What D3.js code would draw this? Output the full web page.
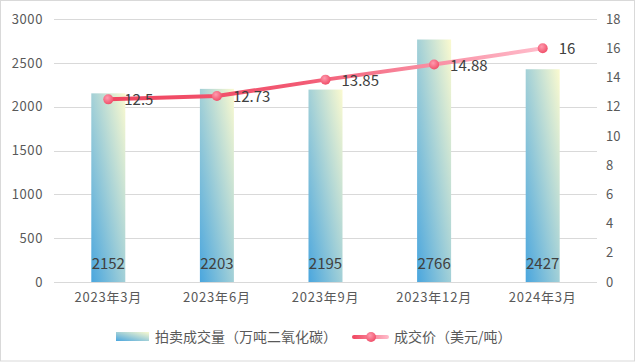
<!DOCTYPE html>
<html>
<head>
<meta charset="utf-8">
<script src="https://d3js.org/d3.v7.min.js"></script>
<style>
  body { margin: 0; background: #fff; }
  text { font-family: "Noto Sans CJK SC", "Noto Sans", sans-serif; }
</style>
</head>
<body>
<div id="chart"></div>
<script>
// Data
const categories = ["2023年3月", "2023年6月", "2023年9月", "2023年12月", "2024年3月"];
const volume = [2152, 2203, 2195, 2766, 2427];      // 拍卖成交量（万吨二氧化碳）
const price = [12.5, 12.73, 13.85, 14.88, 16];     // 成交价（美元/吨）
const leftTicks = [0, 500, 1000, 1500, 2000, 2500, 3000];
const rightTicks = [0, 2, 4, 6, 8, 10, 12, 14, 16, 18];

const width = 635;
const height = 362;
const margin = { top: 19, right: 38, bottom: 80, left: 54 };

const svg = d3.select("#chart")
    .append("svg")
    .attr("width", width)
    .attr("height", height);

// gradients
const defs = svg.append("defs");
const barGrad = defs.append("linearGradient")
    .attr("id", "barGrad")
    .attr("x1", 0).attr("y1", 1).attr("x2", 1).attr("y2", 0);
barGrad.append("stop").attr("offset", "0%").attr("stop-color", "#4aa6de");
barGrad.append("stop").attr("offset", "100%").attr("stop-color", "#fbfad0");

const lineGrad = defs.append("linearGradient")
    .attr("id", "lineGrad")
    .attr("gradientUnits", "userSpaceOnUse")
    .attr("x1", 108).attr("y1", 0).attr("x2", 542).attr("y2", 0);
lineGrad.append("stop").attr("offset", "0%").attr("stop-color", "#f0455f");
lineGrad.append("stop").attr("offset", "45%").attr("stop-color", "#f25a74");
lineGrad.append("stop").attr("offset", "100%").attr("stop-color", "#ffbccb");

const legGrad = defs.append("linearGradient")
    .attr("id", "legGrad")
    .attr("x1", 0).attr("y1", 0).attr("x2", 1).attr("y2", 0);
legGrad.append("stop").attr("offset", "0%").attr("stop-color", "#f0455f");
legGrad.append("stop").attr("offset", "100%").attr("stop-color", "#ffbccb");

const dotGrad = defs.append("radialGradient")
    .attr("id", "dotGrad")
    .attr("cx", "40%").attr("cy", "35%").attr("r", "65%");
dotGrad.append("stop").attr("offset", "0%").attr("stop-color", "#ff9aae");
dotGrad.append("stop").attr("offset", "100%").attr("stop-color", "#f0506a");

// border
svg.append("rect")
    .attr("x", 0.5).attr("y", 0.5)
    .attr("width", width - 1).attr("height", height - 1.5)
    .attr("fill", "none")
    .attr("stroke", "#d9d9d9");

// scales
const x = d3.scaleBand()
    .domain(categories)
    .range([margin.left, width - margin.right])
    .paddingInner(0)
    .paddingOuter(0);

const yL = d3.scaleLinear()
    .domain([0, 3000])
    .range([height - margin.bottom, margin.top]);

const yR = d3.scaleLinear()
    .domain([0, 18])
    .range([height - margin.bottom, margin.top]);

// grid lines
svg.append("g")
    .selectAll("line")
    .data(leftTicks)
    .enter()
    .append("line")
    .attr("x1", margin.left)
    .attr("x2", width - margin.right)
    .attr("y1", d => Math.round(yL(d)) + 0.5)
    .attr("y2", d => Math.round(yL(d)) + 0.5)
    .attr("stroke", "#d9d9d9")
    .attr("stroke-width", 1);

// left axis
const leftAxis = svg.append("g")
    .attr("transform", `translate(${margin.left},0)`)
    .call(d3.axisLeft(yL).tickValues(leftTicks).tickFormat(d3.format("d")).tickSize(0).tickPadding(11));
leftAxis.select(".domain").remove();
leftAxis.selectAll("text")
    .attr("fill", "#595959")
    .style("font-size", "13px")
    .style("letter-spacing", "0.6px");

// right axis
const rightAxis = svg.append("g")
    .attr("transform", `translate(${width - margin.right},0)`)
    .call(d3.axisRight(yR).tickValues(rightTicks).tickSize(0).tickPadding(9));
rightAxis.select(".domain").remove();
rightAxis.selectAll("text")
    .attr("fill", "#595959")
    .style("font-size", "13px");

// bottom axis labels
const bottomAxis = svg.append("g")
    .attr("transform", `translate(0,${height - margin.bottom})`)
    .call(d3.axisBottom(x).tickSize(0).tickPadding(11));
bottomAxis.select(".domain").remove();
bottomAxis.selectAll("text")
    .attr("fill", "#595959")
    .style("font-size", "13px")
    .style("letter-spacing", "0.8px");

// bars
const barW = 34;
svg.selectAll(".bar")
    .data(volume)
    .enter()
    .append("rect")
    .attr("class", "bar")
    .attr("x", (d, i) => x(categories[i]) + x.bandwidth() / 2 - barW / 2)
    .attr("y", d => yL(d))
    .attr("width", barW)
    .attr("height", d => yL(0) - yL(d))
    .attr("fill", "url(#barGrad)");

// bar labels
svg.selectAll(".barLabel")
    .data(volume)
    .enter()
    .append("text")
    .attr("class", "barLabel")
    .attr("x", (d, i) => x(categories[i]) + x.bandwidth() / 2)
    .attr("y", yL(0) - 13)
    .attr("text-anchor", "middle")
    .attr("fill", "#404040")
    .style("font-size", "15px")
    .text(d => d);

// price line
const line = d3.line()
    .x((d, i) => x(categories[i]) + x.bandwidth() / 2)
    .y(d => yR(d));

svg.append("path")
    .datum(price)
    .attr("d", line)
    .attr("fill", "none")
    .attr("stroke", "url(#lineGrad)")
    .attr("stroke-width", 4)
    .attr("stroke-linecap", "round")
    .attr("stroke-linejoin", "round");

svg.selectAll(".dot")
    .data(price)
    .enter()
    .append("circle")
    .attr("class", "dot")
    .attr("cx", (d, i) => x(categories[i]) + x.bandwidth() / 2)
    .attr("cy", d => yR(d))
    .attr("r", 5)
    .attr("fill", "url(#dotGrad)");

svg.selectAll(".priceLabel")
    .data(price)
    .enter()
    .append("text")
    .attr("class", "priceLabel")
    .attr("x", (d, i) => x(categories[i]) + x.bandwidth() / 2 + 16)
    .attr("y", d => yR(d) + 6)
    .attr("fill", "#404040")
    .style("font-size", "15px")
    .text(d => d);

// legend
const legend = svg.append("g");
legend.append("rect")
    .attr("x", 116).attr("y", 332)
    .attr("width", 33).attr("height", 9)
    .attr("fill", "url(#barGrad)");
legend.append("text")
    .attr("x", 155).attr("y", 342)
    .attr("fill", "#595959")
    .style("font-size", "14px")
    .text("拍卖成交量（万吨二氧化碳）");

legend.append("rect")
    .attr("x", 352).attr("y", 335)
    .attr("width", 37).attr("height", 4)
    .attr("rx", 2)
    .attr("fill", "url(#legGrad)");
legend.append("circle")
    .attr("cx", 371).attr("cy", 337)
    .attr("r", 5)
    .attr("fill", "url(#dotGrad)");
legend.append("text")
    .attr("x", 394).attr("y", 342)
    .attr("fill", "#595959")
    .style("font-size", "14px")
    .text("成交价（美元/吨）");
</script>
</body>
</html>
